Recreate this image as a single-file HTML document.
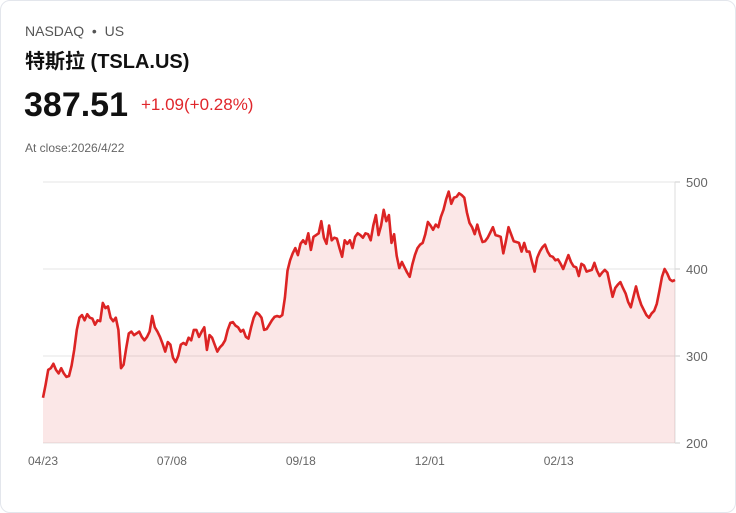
<!DOCTYPE html>
<html><head><meta charset="utf-8"><style>
body{margin:0;width:736px;height:513px;background:#fff;font-family:"Liberation Sans","Noto Sans CJK SC",sans-serif;overflow:hidden}
.card{position:absolute;left:0;top:0;width:734px;height:511px;border:1px solid #e3e6ec;border-radius:10px}
.t{position:absolute;white-space:nowrap}
</style></head><body>
<div class="card"></div>
<div class="t" style="left:25px;top:23px;font-size:14px;color:#555">NASDAQ &nbsp;•&nbsp; US</div>
<div class="t" style="left:25px;top:45px;font-size:20px;font-weight:bold;color:#111">特斯拉 (TSLA.US)</div>
<div class="t" style="left:24px;top:86px;font-size:34px;font-weight:bold;color:#111">387.51</div>
<div class="t" style="left:141px;top:95px;font-size:17px;color:#e0262b">+1.09(+0.28%)</div>
<div class="t" style="left:25px;top:141px;font-size:12px;color:#666">At close:2026/4/22</div>
<svg id="chart" width="736" height="513" style="position:absolute;left:0;top:0"></svg>
<script>
const yTicks=[200,300,400,500];
const xLabels=["04/23","07/08","09/18","12/01","02/13"];
const xLabelIdx=[0,51,102,153,204];
const prices1=[252,267,284,286,291,284,280,286,280,276,277,289,307,330,344,347,341,348,344,343,336,341,340,361,355,357,344,340,344,330,286,290,309,326,328,324,326,328,322,318,322,328,346,333,328,322,314,305,316,313,298,293,300,313,315,313,321,318,330,330,322,328,333,307,324,321,313,305,310,313,318,330,338,339,335,333,328,330,322,320,333,344,350,348,344,330,331,336,341,345,346,345,347,367,398,410,418,424,416,429,433,429,441,422,437,439,441,455,436,429,450,433,436,435,424,414,433,429,433,424,437,441,439,436];
const prices2=[441,440,433,450,462,439,450,468,455,462,430,440,415,401,408,402,396,391,405,416,424,428,430,440,454,450,445,451,448,460,468,480,489,475,482,483,487,485,482,465,453,448,440,451,440,431,432,436,442,448,439,438,437,418,432,448,440,432,431,430,420,430,420,420,408,397,413,420,425,428,420,415,414,410,411,406,400,408,416,408,403,402,392,406,404,397,398,399,407,398,392,396,399,396,382,368,378,382,385,378,372,362,356,368,380,368,359,353,347,344,349,352,360,375,391,400,395,388,386,387.51];
const prices=prices1.concat(prices2);
const X0=43,X1=675,Y200=443,Y500=182;
const n=prices.length;
const xs=i=>X0+(X1-X0)*i/(n-1);
const ys=v=>Y200+(v-200)*(Y500-Y200)/300;
const xl=i=>X0+(X1-X0)*i/250;
const svg=document.getElementById('chart');
const NS='http://www.w3.org/2000/svg';
function mk(tag,attrs){const e=document.createElementNS(NS,tag);for(const k in attrs)e.setAttribute(k,attrs[k]);svg.appendChild(e);return e;}
yTicks.forEach(v=>{
  const l=mk('line',{x1:X0,x2:X1,y1:ys(v),y2:ys(v),stroke:'#e4e4e4','stroke-width':1});
  
  
  const tk=mk('line',{x1:X1,x2:X1+5,y1:ys(v),y2:ys(v),stroke:'#ccc'});
  
  
  const t=mk('text',{x:686,y:ys(v)+5,'font-size':13,fill:'#666','font-family':'Liberation Sans,sans-serif'});
  t.textContent=v;
  
  
});
const ax=mk('line',{x1:X1,x2:X1,y1:Y500,y2:Y200,stroke:'#ddd'});


let d='';prices.forEach((v,i)=>{d+=(i?'L':'M')+xs(i).toFixed(1)+','+ys(v).toFixed(1);});
const area=mk('path',{d:d+'L'+X1+','+Y200+'L'+X0+','+Y200+'Z',fill:'rgba(220,38,38,0.11)'});


const line=mk('path',{d:d,fill:'none',stroke:'#dc2424','stroke-width':2.6,'stroke-linejoin':'round'});


xLabels.forEach((s,i)=>{
  const t=mk('text',{x:xl(xLabelIdx[i]),y:465,'font-size':12,fill:'#666','text-anchor':'middle','font-family':'Liberation Sans,sans-serif'});
  t.textContent=s;
  
  
});
</script>
</body></html>
